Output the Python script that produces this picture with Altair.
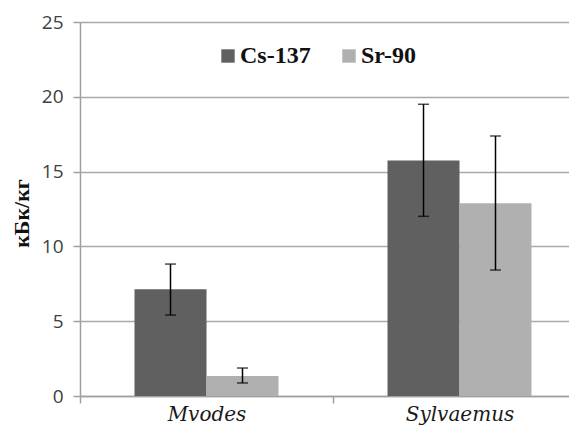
import altair as alt
import pandas as pd

species = ["Mvodes", "Mvodes", "Sylvaemus", "Sylvaemus"]
isotope = ["Cs-137", "Sr-90", "Cs-137", "Sr-90"]
value = [7.13, 1.34, 15.75, 12.88]
upper = [8.82, 1.87, 19.5, 17.38]
lower = [5.41, 0.87, 12.01, 8.42]

df = pd.DataFrame({"species": species, "isotope": isotope, "value": value,
                   "upper": upper, "lower": lower})

cat_order = ["Mvodes", "Sylvaemus"]
iso_order = ["Cs-137", "Sr-90"]
colors = ["#606060", "#b0b0b0"]

x_enc = alt.X("species:N", sort=cat_order,
              scale=alt.Scale(range=[0, 506], paddingInner=0, paddingOuter=0),
              axis=alt.Axis(title=None, labelAngle=0, labelFont="DejaVu Serif",
                            labelFontStyle="italic", labelFontSize=20, labelColor="#1a1a1a",
                            labelPadding=1, domainColor="#a0a0a0", domainWidth=1.5,
                            tickColor="#a0a0a0", tickWidth=1.5, tickSize=7,
                            tickOffset=-126.5, labelOffset=126.5, grid=False))
xoff = alt.XOffset("isotope:N", sort=iso_order,
                   scale=alt.Scale(paddingInner=0, paddingOuter=0.757))
y_scale = alt.Scale(domain=[0, 25], range=[374, 0], nice=False, padding=0)

bars = alt.Chart(df).mark_bar(stroke=None).encode(
    x=x_enc,
    xOffset=xoff,
    y=alt.Y("value:Q", scale=y_scale,
            axis=alt.Axis(title="кБк/кг", values=[0, 5, 10, 15, 20, 25],
                          titleFont="Liberation Serif", titleFontWeight="bold",
                          titleFontSize=22, titleColor="#111111",
                          titleX=-59, titleY=191, titleAlign="center",
                          titleBaseline="middle", titleAngle=-90,
                          labelFont="Open Sans", labelFontSize=19, labelColor="#404040",
                          labelPadding=10, domainColor="#a0a0a0", domainWidth=1.5,
                          tickColor="#a0a0a0", tickWidth=1.5, tickSize=7,
                          grid=True, gridColor="#a8a8a8", gridWidth=1.5)),
    color=alt.Color("isotope:N", sort=iso_order,
                    scale=alt.Scale(domain=iso_order, range=colors),
                    legend=alt.Legend(title=None, orient="none", direction="horizontal",
                                      legendX=136, legendY=22, symbolType="square",
                                      symbolSize=180, symbolStrokeWidth=0,
                                      labelFont="Liberation Serif", labelFontWeight="bold",
                                      labelFontSize=24, labelColor="#111111",
                                      labelOffset=0, columnPadding=26, padding=0)),
)

rules = alt.Chart(df).mark_rule(color="black", strokeWidth=1.5).encode(
    x=alt.X("species:N", sort=cat_order),
    xOffset=xoff,
    y="lower:Q",
    y2="upper:Q",
)

cap_hi = alt.Chart(df).mark_tick(color="black", thickness=1.5, size=11).encode(
    x=alt.X("species:N", sort=cat_order),
    xOffset=xoff,
    y="upper:Q",
)
cap_lo = alt.Chart(df).mark_tick(color="black", thickness=1.5, size=11).encode(
    x=alt.X("species:N", sort=cat_order),
    xOffset=xoff,
    y="lower:Q",
)

chart = alt.layer(bars, rules, cap_hi, cap_lo).properties(
    width=489, height=374,
    autosize=alt.AutoSizeParams(type="none"),
    padding={"left": 72, "top": 14, "right": 0, "bottom": 30},
).configure_view(stroke=None).configure(background="white")

chart.save("out.html", embed_options={"renderer": "svg", "actions": False})
